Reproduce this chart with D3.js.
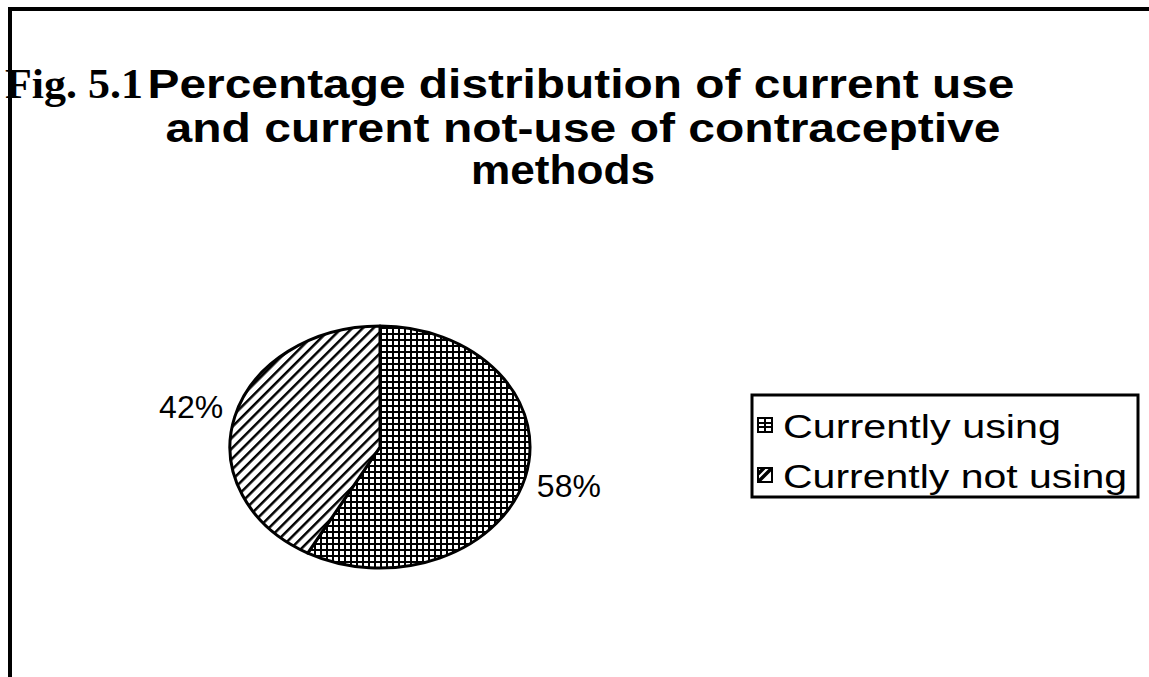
<!DOCTYPE html>
<html>
<head>
<meta charset="utf-8">
<script src="https://cdn.jsdelivr.net/npm/d3@7"></script>
<style>
  body { margin: 0; background: #fff; }
  svg { display: block; }
</style>
</head>
<body>
<div id="chart"></div>
<script>
// chart data
const categories = ["Currently using", "Currently not using"];
const values = [58, 42];
const valueLabels = ["58%", "42%"];
const titleLines = [
    "Percentage distribution of current use",
    "and current not-use of contraceptive",
    "methods"
];

const width = 1149, height = 677;

const svg = d3.select("#chart").append("svg")
    .attr("width", width)
    .attr("height", height);

// pie geometry (ellipse)
const cx = 380, cy = 447, rx = 150, ry = 121;
const sy = ry / rx;

// hatch patterns
const defs = svg.append("defs");

const grid = defs.append("pattern")
    .attr("id", "grid")
    .attr("patternUnits", "userSpaceOnUse")
    .attr("width", 6)
    .attr("height", 6)
    .attr("patternTransform", `scale(1,${1 / sy})`);
grid.append("rect").attr("width", 6).attr("height", 6).attr("fill", "#fff");
grid.append("path")
    .attr("d", "M1,0V6M0,1H6")
    .attr("stroke", "#000")
    .attr("stroke-width", 2);

const diag = defs.append("pattern")
    .attr("id", "diag")
    .attr("patternUnits", "userSpaceOnUse")
    .attr("width", 7.5)
    .attr("height", 7.5)
    .attr("patternTransform", `scale(1,${1 / sy}) rotate(45)`);
diag.append("rect").attr("width", 7.5).attr("height", 7.5).attr("fill", "#fff");
diag.append("path")
    .attr("d", "M0,0V7.5")
    .attr("stroke", "#000")
    .attr("stroke-width", 5);

const fills = ["url(#grid)", "url(#diag)"];
const swatchFills = ["url(#lgGrid)", "url(#lgDiag)"];

// small swatch patterns for the legend
const lgGrid = defs.append("pattern")
    .attr("id", "lgGrid")
    .attr("patternUnits", "objectBoundingBox")
    .attr("width", 1).attr("height", 1);
lgGrid.append("rect").attr("width", 14).attr("height", 14).attr("fill", "#fff");
lgGrid.append("path")
    .attr("d", "M7,0V14M0,5H14M0,9H14")
    .attr("stroke", "#000")
    .attr("stroke-width", 2);

const lgDiag = defs.append("pattern")
    .attr("id", "lgDiag")
    .attr("patternUnits", "objectBoundingBox")
    .attr("width", 1).attr("height", 1);
lgDiag.append("rect").attr("width", 14).attr("height", 14).attr("fill", "#fff");
lgDiag.append("path")
    .attr("d", "M0,14L14,0M0,6L6,0")
    .attr("stroke", "#000")
    .attr("stroke-width", 3.5);

// frame: top and left edges only
svg.append("path")
    .attr("d", `M10,${height}V9H${width}`)
    .attr("fill", "none")
    .attr("stroke", "#000")
    .attr("stroke-width", 4);

// title
svg.append("text")
    .attr("x", 5)
    .attr("y", 98)
    .attr("font-family", "Liberation Serif, Times New Roman, serif")
    .attr("font-weight", "bold")
    .attr("font-size", 43)
    .attr("textLength", 138)
    .attr("lengthAdjust", "spacingAndGlyphs")
    .text("Fig. 5.1");

const titleWidths = [867, 835, 184];
const titleX = [581, 583, 563];
const titleY = [98, 142, 184];
titleLines.forEach((t, i) => {
    svg.append("text")
        .attr("x", titleX[i])
        .attr("y", titleY[i])
        .attr("text-anchor", "middle")
        .attr("font-family", "Liberation Sans, Arial, sans-serif")
        .attr("font-weight", "bold")
        .attr("font-size", 40)
        .attr("textLength", titleWidths[i])
        .attr("lengthAdjust", "spacingAndGlyphs")
        .text(t);
});

// pie
const pie = d3.pie().sort(null).value(d => d)(values);
const arc = d3.arc().innerRadius(0).outerRadius(rx);

const pieG = svg.append("g")
    .attr("transform", `translate(${cx},${cy}) scale(1,${sy})`);

pieG.selectAll("path")
    .data(pie)
    .join("path")
    .attr("d", arc)
    .attr("fill", (d, i) => fills[i])
    .attr("stroke", "#000")
    .attr("stroke-width", 3)
    .attr("vector-effect", "non-scaling-stroke")
    .attr("stroke-linejoin", "round");

// slice labels
const labelArc = d3.arc().innerRadius(rx * 1.3).outerRadius(rx * 1.3);
pie.forEach((d, i) => {
    const [lx, ly] = labelArc.centroid(d);
    svg.append("text")
        .attr("x", cx + lx)
        .attr("y", cy + ly * sy)
        .attr("text-anchor", "middle")
        .attr("dominant-baseline", "central")
        .attr("font-family", "Liberation Sans, Arial, sans-serif")
        .attr("font-size", 31)
        .attr("textLength", 64)
        .attr("lengthAdjust", "spacingAndGlyphs")
        .text(valueLabels[i]);
});

// legend
const legend = svg.append("g").attr("transform", "translate(752,395)");
legend.append("rect")
    .attr("width", 386)
    .attr("height", 102)
    .attr("fill", "#fff")
    .attr("stroke", "#000")
    .attr("stroke-width", 3);

const legendWidths = [278, 344];
categories.forEach((c, i) => {
    const row = legend.append("g").attr("transform", `translate(0,${30 + i * 50})`);
    row.append("rect")
        .attr("x", 6)
        .attr("y", -7)
        .attr("width", 14)
        .attr("height", 14)
        .attr("fill", swatchFills[i])
        .attr("stroke", "#000")
        .attr("stroke-width", 2);
    row.append("text")
        .attr("x", 31)
        .attr("y", 1)
        .attr("dominant-baseline", "central")
        .attr("font-family", "Liberation Sans, Arial, sans-serif")
        .attr("font-size", 33)
        .attr("textLength", legendWidths[i])
        .attr("lengthAdjust", "spacingAndGlyphs")
        .text(c);
});
</script>
</body>
</html>
